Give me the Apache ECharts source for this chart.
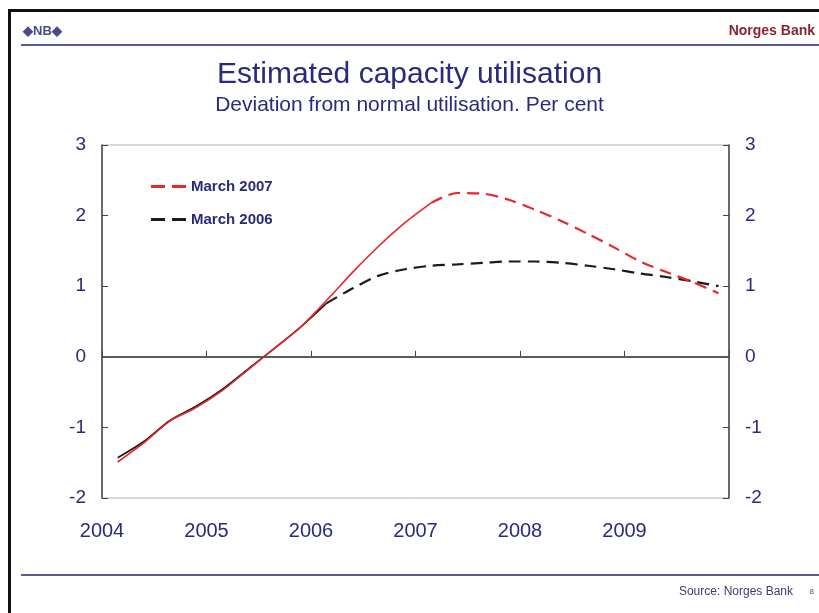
<!DOCTYPE html>
<html>
<head>
<meta charset="utf-8">
<script src="https://cdn.jsdelivr.net/npm/echarts@6/dist/echarts.min.js"></script>
<style>
  html, body { margin: 0; padding: 0; background: #fff; }
  #echarts_id { width: 819px; height: 613px; }
</style>
</head>
<body>
<div id="echarts_id"></div>
<script>
// quarters 2004Q1 .. 2009Q4
var quarters = ['2004Q1','2004Q2','2004Q3','2004Q4','2005Q1','2005Q2','2005Q3','2005Q4',
                '2006Q1','2006Q2','2006Q3','2006Q4','2007Q1','2007Q2','2007Q3','2007Q4',
                '2008Q1','2008Q2','2008Q3','2008Q4','2009Q1','2009Q2','2009Q3','2009Q4'];

// March 2007 report (estimates up to 2007Q1, projections after)
var march2007 = [-1.49, -1.22, -0.91, -0.72, -0.48, -0.18, 0.12, 0.42,
                 0.80, 1.20, 1.57, 1.90, 2.18, 2.32, 2.31, 2.22,
                 2.08, 1.92, 1.74, 1.55, 1.35, 1.20, 1.06, 0.90];
var march2007LastEstimate = '2007Q1';

// March 2006 report (estimates up to 2006Q1, projections after)
var march2006 = [-1.43, -1.20, -0.90, -0.70, -0.46, -0.17, 0.12, 0.42,
                 0.76, 0.97, 1.15, 1.24, 1.29, 1.31, 1.33, 1.35,
                 1.35, 1.33, 1.29, 1.24, 1.18, 1.13, 1.07, 1.00];
var march2006LastEstimate = '2006Q1';

var yearLabels = ['2004', '2005', '2006', '2007', '2008', '2009'];
var yTicks = [-2, -1, 0, 1, 2, 3];

var navy = '#2a2a7c';
var red = '#e8262b';
var black = '#1a1a1a';

// quarter -> decimal year position on the axis
function qx(q) {
    var y = parseInt(q.slice(0, 4), 10);
    var n = parseInt(q.slice(5), 10);
    return y + (n - 0.4) / 4;
}

// split a series into a solid (history) part and a dashed (projection) part
function split(values, lastEst) {
    var cut = quarters.indexOf(lastEst);
    var solid = [], dashed = [];
    quarters.forEach(function (q, i) {
        if (i <= cut) solid.push([qx(q), values[i]]);
        if (i >= cut) dashed.push([qx(q), values[i]]);
    });
    return { solid: solid, dashed: dashed };
}

var s07 = split(march2007, march2007LastEstimate);
var s06 = split(march2006, march2006LastEstimate);

var myChart = echarts.init(document.getElementById('echarts_id'));

var font = "'Liberation Sans', Arial, sans-serif";
var dashIcon = 'path://M0,0H14V3H0Z M21,0H35V3H21Z';

function yAxisOpt(pos) {
    return {
        type: 'value',
        min: yTicks[0],
        max: yTicks[yTicks.length - 1],
        interval: 1,
        position: pos,
        axisLine: { show: true, lineStyle: { color: '#444', width: 1.5 } },
        axisTick: { show: true, inside: true, length: 6, lineStyle: { color: '#444' } },
        splitLine: { show: false },
        axisLabel: { color: navy, fontSize: 19, fontFamily: font, margin: 16 }
    };
}

option = {
    backgroundColor: '#fff',
    animation: false,
    title: {
        text: 'Estimated capacity utilisation',
        subtext: 'Deviation from normal utilisation. Per cent',
        left: 'center',
        top: 55,
        itemGap: 5,
        textStyle: { color: navy, fontSize: 30, fontWeight: 'normal', fontFamily: font },
        subtextStyle: { color: navy, fontSize: 21, fontFamily: font }
    },
    legend: {
        orient: 'vertical',
        left: 146,
        top: 174,
        itemGap: 18,
        itemWidth: 35,
        itemHeight: 3,
        data: [
            { name: 'March 2007', icon: dashIcon, itemStyle: { color: red } },
            { name: 'March 2006', icon: dashIcon, itemStyle: { color: black } }
        ],
        textStyle: { color: navy, fontSize: 15, fontWeight: 'bold', fontFamily: font }
    },
    grid: {
        left: 102,
        right: 90,
        top: 145,
        bottom: 115,
        show: true,
        borderColor: '#b0b0b0',
        borderWidth: 1
    },
    xAxis: {
        type: 'value',
        min: 2004,
        max: 2010,
        interval: 1,
        axisLine: { lineStyle: { color: '#444', width: 1.5 } },
        axisTick: { inside: true, length: 6, lineStyle: { color: '#444' } },
        splitLine: { show: false },
        axisLabel: {
            color: navy,
            fontSize: 20,
            fontFamily: font,
            margin: 23,
            formatter: function (v) {
                return yearLabels.indexOf(String(v)) >= 0 ? String(v) : '';
            }
        }
    },
    yAxis: [yAxisOpt('left'), yAxisOpt('right')],
    series: [{
        name: 'March 2006',
        type: 'line',
        data: s06.dashed,
        symbol: 'none',
        smooth: 0.3,
        lineStyle: { color: black, width: 2.2, type: [12, 7] },
        itemStyle: { color: black },
        z: 3,
        markLine: {
            silent: true,
            symbol: 'none',
            label: { show: false },
            lineStyle: { color: '#555', width: 1.5, type: 'solid' },
            data: [{ yAxis: 0 }]
        }
    }, {
        name: 'm2006hist',
        type: 'line',
        data: s06.solid,
        symbol: 'none',
        smooth: 0.3,
        lineStyle: { color: black, width: 1.6, type: 'solid' },
        z: 3
    }, {
        name: 'March 2007',
        type: 'line',
        data: s07.dashed,
        symbol: 'none',
        smooth: 0.3,
        lineStyle: { color: red, width: 2.2, type: [12, 7] },
        itemStyle: { color: red },
        z: 4
    }, {
        name: 'm2007hist',
        type: 'line',
        data: s07.solid,
        symbol: 'none',
        smooth: 0.3,
        lineStyle: { color: red, width: 1.6, type: 'solid' },
        z: 4
    }],
    graphic: [
        // frame
        { type: 'rect', shape: { x: 8, y: 9, width: 830, height: 3 }, style: { fill: '#111' } },
        { type: 'rect', shape: { x: 8, y: 9, width: 3, height: 620 }, style: { fill: '#111' } },
        // header
        { type: 'text', left: 23, top: 25, style: { text: '\u25C6NB\u25C6', fill: '#4a4a8a', fontSize: 13, fontWeight: 'bold', fontFamily: font } },
        { type: 'text', right: 4, top: 24, style: { text: 'Norges Bank', fill: '#8b2232', fontSize: 14, fontWeight: 'bold', fontFamily: font } },
        { type: 'rect', shape: { x: 21, y: 44, width: 810, height: 2 }, style: { fill: '#5a5a9a' } },
        // footer
        { type: 'rect', shape: { x: 21, y: 574, width: 810, height: 2 }, style: { fill: '#5a5a9a' } },
        { type: 'text', right: 26, top: 586, style: { text: 'Source: Norges Bank', fill: '#3a3a7a', fontSize: 12, fontFamily: font } },
        { type: 'text', right: 5, top: 588, style: { text: '8', fill: '#555', fontSize: 8, fontFamily: font } }
    ]
};

myChart.setOption(option);
</script>
</body>
</html>
